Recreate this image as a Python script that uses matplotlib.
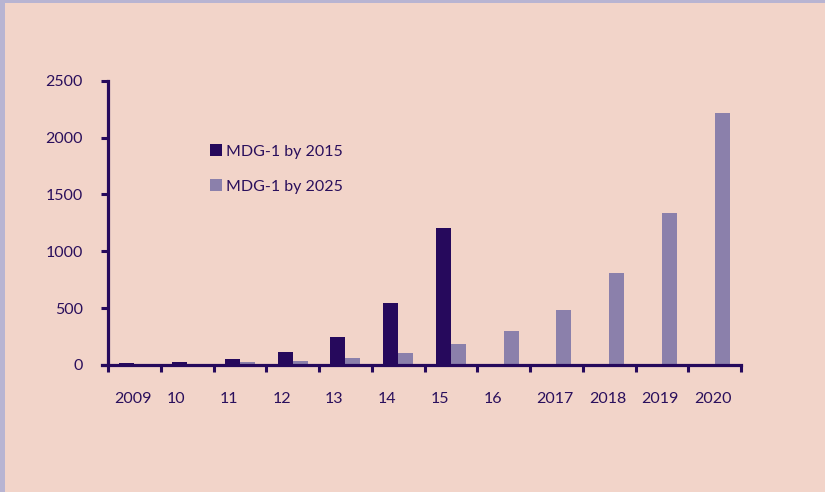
import matplotlib
matplotlib.use("Agg")
import matplotlib.pyplot as plt
from matplotlib.patches import Rectangle
import numpy as np

categories = ["2009", "10", "11", "12", "13", "14", "15", "16", "2017", "2018", "2019", "2020"]
by_2015 = [15, 24, 50, 112, 245, 545, 1205, 0, 0, 0, 0, 0]
by_2025 = [8, 12, 24, 35, 62, 103, 182, 299, 484, 809, 1337, 2213]
yticks = [0, 500, 1000, 1500, 2000, 2500]

BG = "#F2D4C9"
BORDER = "#B8B4D2"
DARK = "#26095C"
LIGHT = "#8B80AB"
TXT = "#2A0F5C"

plt.rcParams["font.family"] = ["Lato", "DejaVu Sans"]

W, H = 825, 492
fig = plt.figure(figsize=(W / 100, H / 100), dpi=100)
fig.patch.set_facecolor(BORDER)
fig.patches.append(Rectangle((5 / W, 0), 1, 1 - 3 / H, transform=fig.transFigure,
                             facecolor=BG, edgecolor="none", zorder=-10))

x0, x1 = 102, 741
ytop, ybot = 80.7, 365
ax = fig.add_axes([x0 / W, 1 - ybot / H, (x1 - x0) / W, (ybot - ytop) / H])
ax.set_facecolor("none")

n = len(categories)
step = (741 - 108) / n
xs = np.arange(n)
w = 0.285
ax.bar(xs - w / 2, by_2015, width=w, color=DARK, label="MDG-1 by 2015", zorder=2)
ax.bar(xs + w / 2, by_2025, width=w, color=LIGHT, label="MDG-1 by 2025", zorder=2)

ax.set_xlim(-0.5 - 6 / step, n - 0.5)
ax.set_ylim(0, 2500)

for s in ["top", "right"]:
    ax.spines[s].set_visible(False)
ax.spines["left"].set_position(("data", -0.5))
for s in ["left", "bottom"]:
    ax.spines[s].set_color(DARK)
    ax.spines[s].set_linewidth(2.3)
    ax.spines[s].set_zorder(3)

ax.set_yticks(yticks)
ax.set_yticklabels([str(v) for v in yticks])
ax.tick_params(axis="y", length=5, width=2.2, color=DARK, pad=13,
               labelsize=11.5, labelcolor=TXT)

# boundary tick marks (minor), labels on major ticks without marks
ax.set_xticks(np.arange(n + 1) - 0.5, minor=True)
ax.tick_params(axis="x", which="minor", length=5, width=2.2, color=DARK, direction="out")
ax.set_xticks(xs - 0.5 + 6 / step)
ax.set_xticklabels(categories, ha="left")
ax.tick_params(axis="x", which="major", length=0, pad=19.5, labelsize=11.5, labelcolor=TXT)

leg = ax.legend(loc="upper left", bbox_to_anchor=((210 - x0) / (x1 - x0), 1 - (144 - ytop) / (ybot - ytop)),
                frameon=False, fontsize=11.5, handlelength=0.78, handleheight=0.78,
                handletextpad=0.25, labelspacing=1.3, borderpad=0, borderaxespad=0)
for t in leg.get_texts():
    t.set_color(TXT)

fig.savefig("out.png", dpi=100, facecolor=fig.get_facecolor())
